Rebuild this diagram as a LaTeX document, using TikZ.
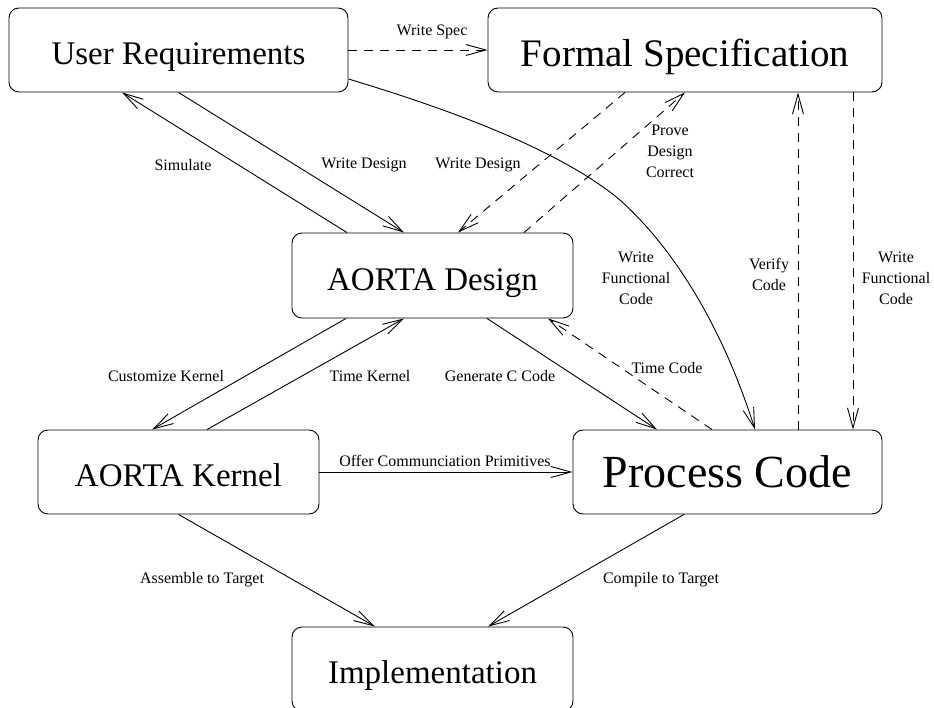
\documentclass[tikz,border=0pt]{standalone}
\usepackage{fontspec}
\setmainfont{Liberation Serif}
\usetikzlibrary{arrows.meta,positioning,calc}

\begin{document}
\begin{tikzpicture}[x=1pt,y=-1pt]
	\tikzset{
		box/.style={draw, rounded corners=10pt, line width=0.9pt, minimum width=281pt, minimum height=84pt, inner sep=0pt, text height=30pt, text depth=0pt, font={\fontsize{33}{38}\selectfont}},
		lbl/.style={font={\fontsize{16}{21}\selectfont}, align=center, inner sep=0pt},
		arrow/.style={-{Straight Barb[length=20pt,width=11pt]}, line width=0.9pt},
		dasharrow/.style={arrow, dash pattern=on 9pt off 7pt},
	}
	\useasboundingbox (0,0) rectangle (934,708);

	% the six stages
	\node[box, minimum width=339pt] (ur) at (178.5,50) {User Requirements};
	\node[box, minimum width=394pt, text height=33pt, font={\fontsize{39}{44}\selectfont}] (fs) at (685,50) {Formal Specification};
	\node[box, minimum height=85pt, text height=31pt] (ad) at (432.5,275.5) {AORTA Design};
	\node[box, text height=28pt] (ak) at (178.5,472) {AORTA Kernel};
	\node[box, minimum width=309pt, text height=30.5pt, font={\fontsize{46}{52}\selectfont}] (pc) at (727.5,472) {Process Code};
	\node[box, text height=28pt] (impl) at (432.5,669) {Implementation};

	% top row
	\draw[dasharrow] (ur.east) -- (fs.west);
	\node[lbl] (wspec) at (432,32) {Write Spec};

	\draw[arrow] ([xshift=-85.5pt]ad.north) -- ([xshift=-56.5pt]ur.south);
	\draw[arrow] (ur.south) -- ([xshift=-28.5pt]ad.north);
	\draw[dasharrow] ([xshift=-60pt]fs.south) -- ([xshift=25.5pt]ad.north);
	\draw[dasharrow] ([xshift=91.5pt]ad.north) -- (fs.south);
	\node[lbl] (sim) at (183,165) {Simulate};
	\node[lbl] (wdes) at (364,165) {Write Design};
	\node[lbl] (wdesf) at (478,165) {Write Design};
	\node[lbl] (prove) at (670,151) {Prove\\Design\\Correct};

	% functional code straight from the requirements
	\coordinate (bend) at (620,200);
	\draw[arrow] ([yshift=-29pt]ur.east) .. controls +(103,31) and +(-60,-50) .. (bend)
		.. controls +(50,45) and +(-35,-110) .. ([xshift=27.5pt]pc.north);
	\node[lbl] (wfc) at (636,278) {Write\\Functional\\Code};

	\draw[dasharrow] ([xshift=70.5pt]pc.north) -- ([xshift=113pt]fs.south);
	\draw[dasharrow] ([xshift=168pt]fs.south) -- ([xshift=125.5pt]pc.north);
	\node[lbl] (verify) at (769,274) {Verify\\Code};
	\node[lbl] (wfcf) at (896,278) {Write\\Functional\\Code};

	% design down to kernel and code
	\draw[arrow] ([xshift=-86.5pt]ad.south) -- ([xshift=-26.5pt]ak.north);
	\draw[arrow] ([xshift=28.5pt]ak.north) -- ([xshift=-28.5pt]ad.south);
	\draw[arrow] ([xshift=54.5pt]ad.south) -- ([xshift=-70.5pt]pc.north);
	\draw[dasharrow] ([xshift=-15.5pt]pc.north) -- ([xshift=115.5pt]ad.south);
	\node[lbl] (cust) at (166,376) {Customize Kernel};
	\node[lbl] (tkern) at (370,376) {Time Kernel};
	\node[lbl] (genc) at (500,376) {Generate C Code};
	\node[lbl] (tcode) at (667,368) {Time Code};

	\draw[arrow] (ak.east) -- (pc.west);
	\node[lbl] (offer) at (445,461) {Offer Communciation Primitives};

	% targets
	\draw[arrow] (ak.south) -- ([xshift=-57.5pt]impl.north);
	\draw[arrow] ([xshift=-43.5pt]pc.south) -- ([xshift=55.5pt]impl.north);
	\node[lbl] (asm) at (202,580) {Assemble to Target};
	\node[lbl] (comp) at (661,580) {Compile to Target};

\end{tikzpicture}
\end{document}
